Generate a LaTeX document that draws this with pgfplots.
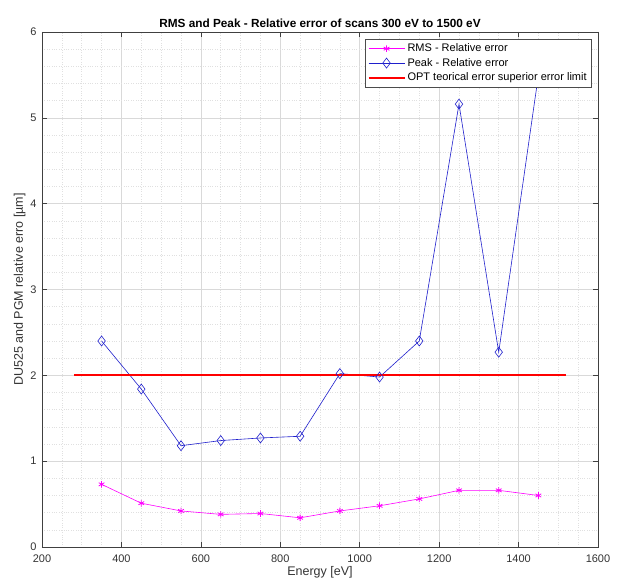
\documentclass[border=0pt]{standalone}
\usepackage{pgfplots}
\pgfplotsset{compat=1.18}
\usepackage{fontspec}
\setmainfont{Liberation Sans}
\usetikzlibrary{calc}
\definecolor{axgray}{rgb}{0.25,0.25,0.25}
\definecolor{rmsmag}{rgb}{1,0,1}
\definecolor{peakblue}{rgb}{0.12,0.12,0.8}
\begin{document}
\begin{tikzpicture}
\begin{axis}[
  scale only axis,
  width=556pt, height=515pt,
  xmin=200, xmax=1600, ymin=0, ymax=6,
  xtick={200,400,...,1600},
  ytick={0,1,...,6},
  minor x tick num=3,
  minor y tick num=4,
  grid=both,
  major grid style={draw=black!15, line width=0.5pt},
  minor grid style={draw=black!12, dotted, line width=0.5pt},
  axis line style={draw=axgray, line width=0.7pt},
  tick style={draw=axgray, line width=0.6pt},
  major tick length=5pt, minor tick length=0pt,
  tick align=inside,
  ticklabel style={font=\fontsize{11}{13}\selectfont, text=black!80},
  xticklabel style={yshift=-4pt},
  yticklabel style={xshift=-2pt},
  /pgf/number format/assume math mode=true,
  /pgf/number format/1000 sep={},
  xlabel={Energy [eV]},
  ylabel={DU525 and PGM relative erro [µm]},
  label style={font=\fontsize{12.5}{14}\selectfont, text=black!80},
  xlabel style={yshift=3pt},
  ylabel style={yshift=-2pt},
  title={RMS and Peak - Relative error of scans 300 eV to 1500 eV},
  title style={font=\bfseries\fontsize{11.8}{13}\selectfont, yshift=-5pt},
  legend style={at={(0.988,0.986)}, anchor=north east, draw=black!70, fill=white,
    font=\fontsize{11}{12.5}\selectfont, row sep=1pt, inner sep=2.5pt},
  legend cell align=left,
  legend image code/.code={%
    \draw[mark repeat=2, mark phase=2, #1] plot coordinates {(0pt,0pt) (18pt,0pt) (36pt,0pt)};},
]
\addplot[color=rmsmag, line width=0.6pt, mark=asterisk, mark size=3.3pt, mark options={solid, line width=0.8pt}]
  coordinates {(350,0.73) (450,0.51) (550,0.42) (650,0.38) (750,0.39) (850,0.34)
               (950,0.42) (1050,0.48) (1150,0.56) (1250,0.66) (1350,0.66) (1450,0.60)};
\addlegendentry{RMS - Relative error}
\addplot[color=peakblue, line width=0.6pt, mark=diamond, mark size=5pt, mark options={solid, fill=none}]
  coordinates {(350,2.40) (450,1.84) (550,1.18) (650,1.24) (750,1.27) (850,1.29)
               (950,2.02) (1050,1.98) (1150,2.40) (1250,5.16) (1350,2.27) (1450,5.5)};
\addlegendentry{Peak - Relative error}
\addplot[color=red, line width=2pt] coordinates {(280,2) (1520,2)};
\addlegendentry{OPT teorical error superior error limit}
\end{axis}
\pgfresetboundingbox
\path[use as bounding box] ($(current axis.south west)+(-42pt,-39pt)$) rectangle ($(current axis.north east)+(21pt,32pt)$);
\end{tikzpicture}
\end{document}
